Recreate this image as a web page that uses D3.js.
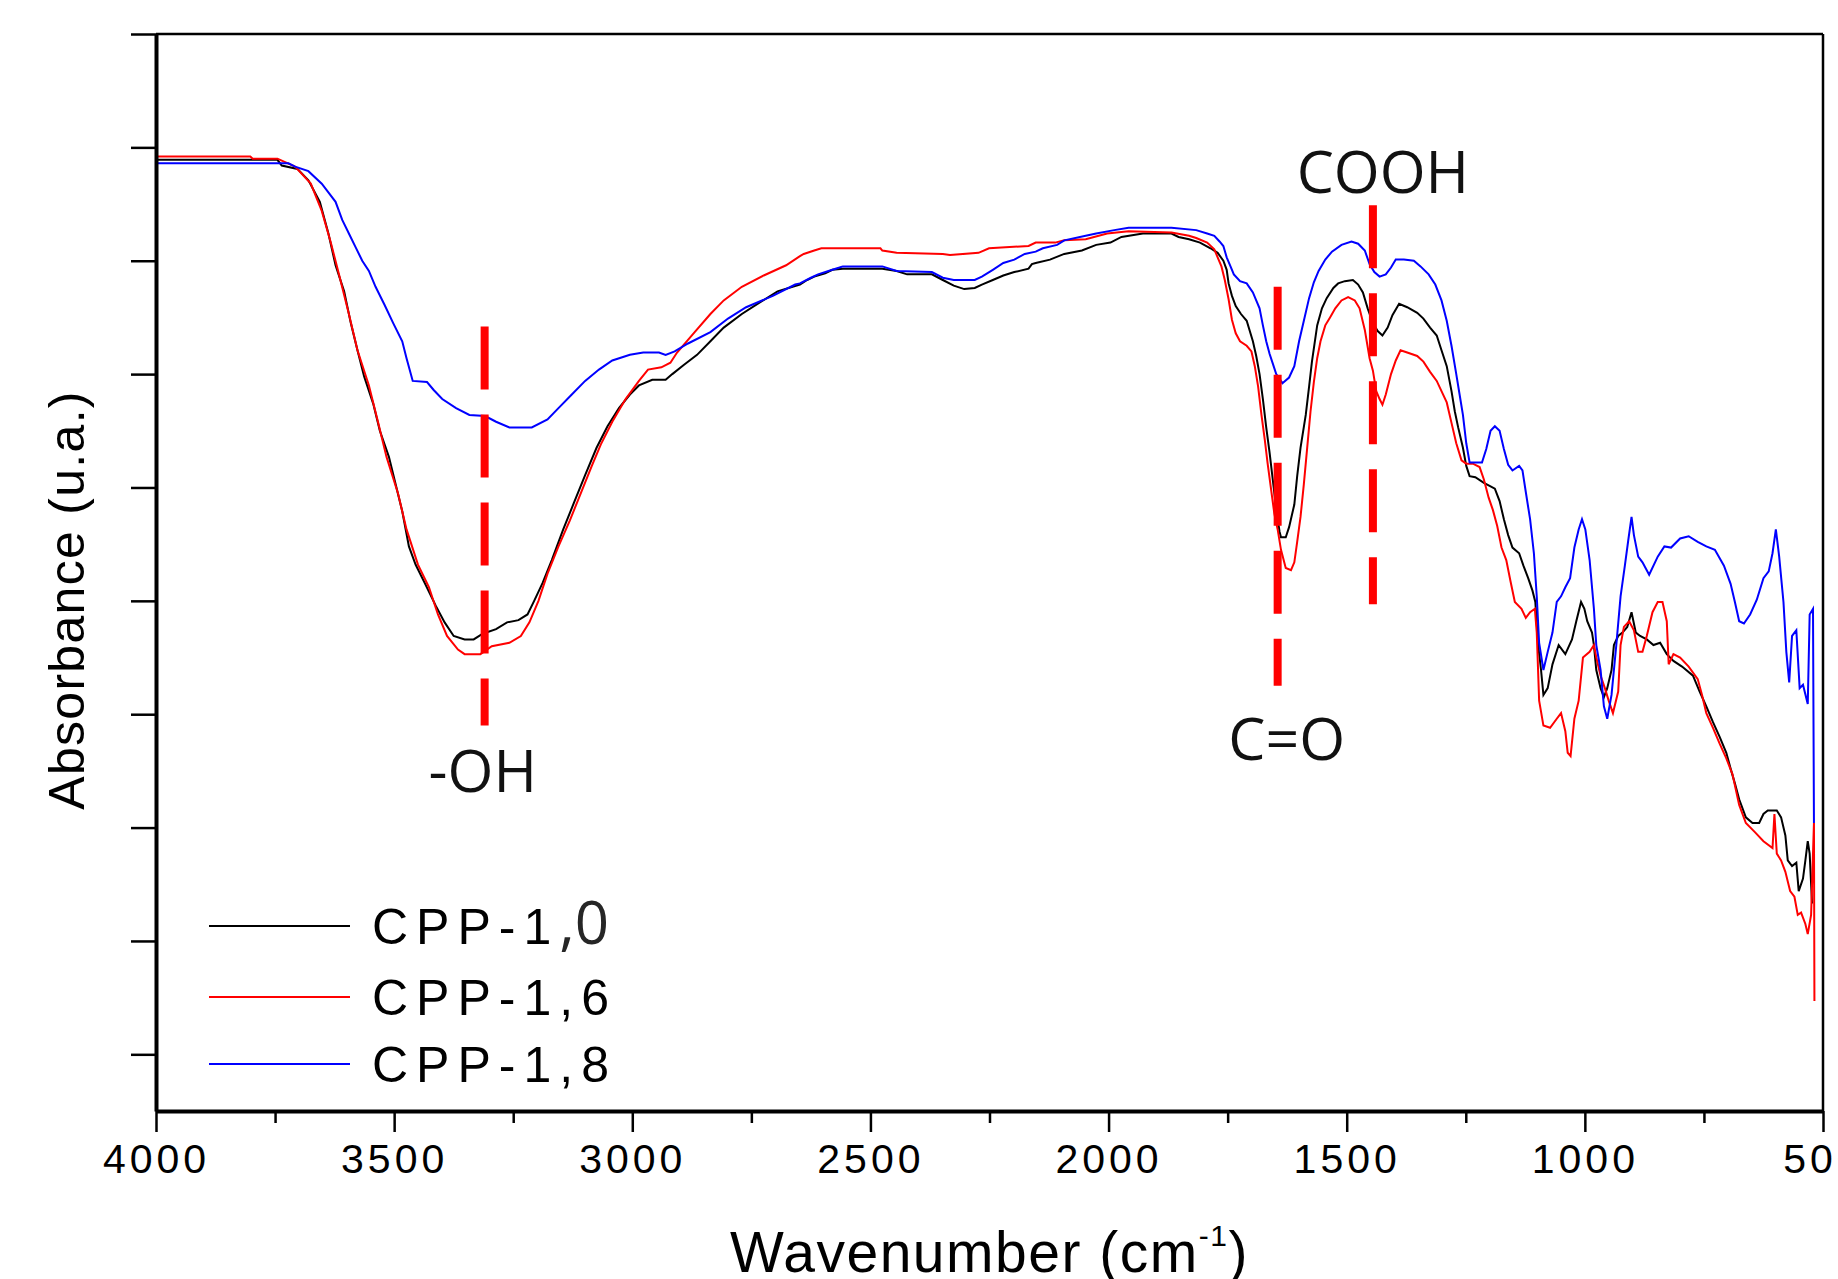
<!DOCTYPE html>
<html>
<head>
<meta charset="utf-8">
<script src="https://cdn.jsdelivr.net/npm/d3@7"></script>
<style>
  html, body { margin: 0; padding: 0; background: #fff; overflow: hidden; }
  svg { display: block; }
</style>
</head>
<body>
<svg id="ftir"></svg>
<script>
// FTIR spectra: [wavenumber cm-1, absorbance a.u.]
const cpp10 = [[4000,83.9],[3745,83.9],[3736,83.4],[3703,83.1],[3680,82.1],[3656,80.2],[3638,77.4],[3623,74.6],[3605,72.3],[3591,69.5],[3577,67.1],[3563,64.8],[3544,62.4],[3530,60.0],[3511,57.7],[3497,55.3],[3483,52.9],[3469,49.8],[3455,48.2],[3436,46.6],[3413,44.6],[3394,43.1],[3375,41.9],[3352,41.6],[3333,41.6],[3314,42.1],[3286,42.5],[3263,43.1],[3239,43.3],[3220,43.8],[3206,45.0],[3188,46.6],[3169,48.6],[3145,51.3],[3122,53.7],[3099,56.1],[3075,58.5],[3052,60.4],[3028,62.0],[3005,63.2],[2986,64.0],[2958,64.5],[2930,64.5],[2916,65.0],[2892,65.8],[2864,66.7],[2836,67.9],[2808,69.1],[2770,70.3],[2733,71.3],[2695,72.3],[2648,72.9],[2633,73.3],[2618,73.6],[2595,73.9],[2580,74.2],[2558,74.3],[2475,74.3],[2445,74.1],[2423,73.8],[2371,73.8],[2348,73.3],[2325,72.8],[2303,72.5],[2281,72.6],[2266,72.9],[2243,73.3],[2221,73.7],[2198,74.0],[2168,74.3],[2161,74.7],[2153,74.8],[2123,75.1],[2093,75.6],[2056,75.9],[2026,76.4],[1996,76.6],[1973,77.1],[1928,77.4],[1868,77.4],[1853,77.1],[1831,76.9],[1808,76.6],[1786,76.1],[1771,75.7],[1759,75.0],[1752,74.2],[1748,73.0],[1741,71.9],[1733,71.0],[1722,70.3],[1710,69.7],[1697,67.9],[1690,66.6],[1683,65.0],[1676,62.8],[1669,60.3],[1662,58.1],[1655,55.6],[1648,53.1],[1641,51.1],[1638,50.6],[1628,50.6],[1621,51.5],[1610,53.5],[1604,56.0],[1597,58.5],[1586,61.4],[1579,63.9],[1573,66.1],[1562,69.3],[1552,70.8],[1542,71.7],[1528,72.6],[1518,73.0],[1504,73.2],[1487,73.3],[1476,72.9],[1466,72.2],[1456,70.8],[1445,69.5],[1435,68.8],[1425,68.4],[1414,69.1],[1404,70.2],[1390,71.2],[1373,70.9],[1352,70.4],[1339,69.9],[1325,69.1],[1311,68.4],[1301,67.1],[1290,65.7],[1280,63.5],[1273,61.7],[1266,60.3],[1256,58.5],[1249,56.9],[1242,56.0],[1230,55.9],[1212,55.4],[1198,55.1],[1189,54.9],[1179,53.8],[1170,52.2],[1161,50.8],[1152,49.7],[1138,49.2],[1129,48.1],[1119,47.0],[1110,45.9],[1104,44.9],[1098,41.1],[1092,38.9],[1087,36.7],[1078,37.3],[1068,39.4],[1055,41.1],[1041,40.3],[1027,41.6],[1018,43.2],[1008,44.9],[1001,44.3],[995,43.2],[985,42.2],[981,41.1],[976,38.9],[967,37.3],[960,36.5],[953,37.3],[944,38.9],[939,41.1],[930,41.9],[921,42.2],[911,42.7],[902,44.0],[893,42.2],[884,41.9],[870,41.6],[856,41.1],[842,41.3],[828,40.3],[814,39.7],[796,39.2],[773,38.4],[759,37.0],[745,35.7],[731,34.3],[717,33.0],[703,31.6],[694,30.2],[685,28.9],[676,27.5],[662,25.9],[648,25.4],[634,25.4],[625,26.2],[616,26.5],[597,26.5],[588,25.9],[579,24.3],[574,22.1],[565,21.6],[556,21.9],[551,19.4],[542,20.5],[537,22.1],[532,23.8],[528,22.7],[523,18.3]];

const cpp16 = [[4000,84.2],[3802,84.2],[3797,84.0],[3745,84.0],[3708,83.3],[3675,81.8],[3652,79.4],[3633,76.6],[3614,73.5],[3595,70.3],[3577,67.1],[3553,64.0],[3534,60.8],[3516,57.7],[3492,54.5],[3474,51.3],[3450,48.2],[3427,46.2],[3408,43.8],[3389,41.9],[3366,40.7],[3352,40.3],[3319,40.3],[3295,41.0],[3258,41.3],[3234,41.9],[3216,43.1],[3197,45.0],[3178,47.4],[3155,49.8],[3131,52.1],[3108,54.5],[3085,56.9],[3066,58.8],[3042,60.8],[3014,62.8],[2986,64.4],[2967,65.4],[2939,65.6],[2920,66.0],[2906,66.9],[2869,68.7],[2836,70.3],[2808,71.5],[2770,72.7],[2724,73.7],[2677,74.6],[2648,75.4],[2640,75.6],[2618,75.9],[2603,76.1],[2479,76.1],[2475,75.9],[2445,75.7],[2348,75.6],[2333,75.5],[2273,75.7],[2251,76.1],[2168,76.3],[2153,76.6],[2112,76.6],[2093,76.8],[2048,76.9],[2003,77.4],[1958,77.6],[1868,77.5],[1831,77.2],[1816,77.0],[1793,76.6],[1778,76.0],[1771,75.3],[1763,74.5],[1756,73.3],[1748,71.6],[1741,69.8],[1733,68.6],[1724,67.9],[1710,67.5],[1700,67.0],[1693,65.7],[1686,63.9],[1679,61.4],[1672,59.2],[1666,57.1],[1659,54.9],[1652,52.7],[1645,51.3],[1638,49.5],[1628,47.9],[1617,47.7],[1610,48.4],[1604,50.2],[1597,52.4],[1590,55.3],[1583,58.5],[1576,61.7],[1569,64.3],[1562,66.4],[1555,67.9],[1545,69.3],[1535,70.0],[1524,70.8],[1511,71.5],[1497,71.8],[1483,71.5],[1473,70.8],[1462,68.9],[1452,66.4],[1445,65.3],[1438,63.5],[1431,62.8],[1425,62.3],[1418,63.2],[1407,65.0],[1397,66.2],[1387,67.1],[1373,66.9],[1352,66.6],[1339,66.1],[1325,65.2],[1311,64.4],[1301,63.5],[1290,62.5],[1280,60.7],[1270,58.9],[1259,57.4],[1249,57.1],[1235,57.1],[1221,56.8],[1212,55.7],[1202,54.1],[1193,53.0],[1184,51.6],[1175,49.7],[1165,48.6],[1156,46.7],[1147,44.9],[1133,44.3],[1124,43.5],[1115,44.0],[1105,44.3],[1101,42.2],[1096,36.2],[1087,34.0],[1073,33.8],[1059,34.6],[1050,35.1],[1041,33.5],[1036,31.6],[1030,31.3],[1022,34.6],[1013,36.2],[1004,40.0],[990,40.5],[981,41.1],[976,40.0],[967,38.4],[958,37.3],[950,36.2],[941,35.1],[930,37.0],[925,41.1],[918,42.7],[907,43.2],[897,42.4],[888,40.5],[879,40.5],[870,41.9],[858,44.0],[847,44.9],[837,44.9],[828,43.2],[824,39.4],[814,40.3],[800,40.0],[782,39.2],[763,38.1],[754,36.7],[745,35.1],[731,33.8],[717,32.4],[703,31.1],[690,29.7],[676,27.0],[662,25.4],[643,24.6],[625,23.8],[606,23.2],[602,26.2],[597,22.7],[588,22.1],[579,21.1],[569,19.4],[560,18.9],[553,17.3],[546,17.5],[537,16.5],[532,15.6],[525,17.3],[519,25.4],[518,9.7]];

const cpp18 = [[4000,83.6],[3722,83.6],[3708,83.3],[3680,82.9],[3652,81.8],[3623,80.2],[3609,78.6],[3595,77.4],[3581,76.2],[3567,75.0],[3553,74.1],[3539,72.7],[3520,71.1],[3502,69.5],[3483,67.9],[3474,66.4],[3461,64.4],[3431,64.3],[3417,63.6],[3399,62.8],[3370,62.0],[3342,61.4],[3309,61.3],[3286,60.8],[3258,60.3],[3211,60.3],[3178,61.0],[3155,62.0],[3127,63.2],[3099,64.4],[3070,65.4],[3042,66.2],[3005,66.7],[2977,66.9],[2944,66.9],[2930,66.7],[2911,67.0],[2883,67.7],[2836,68.7],[2799,69.9],[2761,70.9],[2705,71.9],[2658,72.9],[2648,73.0],[2625,73.5],[2610,73.8],[2588,74.1],[2565,74.4],[2558,74.5],[2475,74.5],[2445,74.1],[2371,74.0],[2348,73.5],[2325,73.3],[2281,73.3],[2266,73.6],[2243,74.2],[2221,74.8],[2198,75.1],[2176,75.6],[2153,75.8],[2138,76.1],[2108,76.4],[2093,76.8],[2048,77.2],[2026,77.4],[1988,77.7],[1958,77.9],[1868,77.9],[1816,77.7],[1793,77.4],[1778,77.2],[1767,76.7],[1759,76.3],[1752,75.3],[1744,74.5],[1737,73.8],[1724,73.2],[1710,73.0],[1697,72.2],[1683,70.8],[1676,69.3],[1669,67.9],[1662,66.8],[1655,65.9],[1648,65.0],[1635,64.2],[1621,64.7],[1610,65.7],[1600,67.9],[1590,69.7],[1579,71.7],[1569,73.1],[1559,74.1],[1545,75.1],[1531,75.8],[1511,76.4],[1490,76.7],[1476,76.5],[1462,75.9],[1452,74.7],[1442,74.0],[1431,73.6],[1418,73.8],[1407,74.4],[1397,75.1],[1380,75.1],[1359,75.0],[1345,74.5],[1328,73.8],[1314,72.9],[1301,71.5],[1290,69.7],[1280,67.5],[1270,65.0],[1263,63.2],[1256,61.4],[1249,58.9],[1242,57.2],[1216,57.2],[1207,58.4],[1198,60.0],[1189,60.4],[1179,60.0],[1170,58.4],[1161,57.0],[1152,56.5],[1138,56.9],[1131,56.5],[1124,54.6],[1115,52.2],[1107,49.2],[1101,45.4],[1096,41.3],[1087,38.9],[1078,40.5],[1068,42.2],[1059,44.9],[1050,45.4],[1041,46.2],[1031,47.0],[1022,49.7],[1013,51.3],[1006,52.2],[999,51.3],[990,48.6],[981,44.3],[976,41.1],[967,38.9],[960,35.7],[953,34.6],[944,36.7],[934,41.1],[925,45.4],[916,48.1],[909,50.3],[902,52.4],[897,50.8],[888,48.9],[879,48.4],[865,47.3],[847,48.9],[833,49.8],[819,49.7],[800,50.5],[782,50.7],[763,50.2],[745,49.8],[727,49.5],[708,48.1],[694,46.5],[685,44.9],[676,43.2],[666,43.0],[653,43.8],[639,45.1],[625,47.0],[614,47.6],[606,49.2],[599,51.3],[592,48.9],[583,44.9],[577,40.5],[571,37.8],[565,41.9],[556,42.4],[549,37.3],[542,37.6],[532,35.9],[528,43.8],[521,44.3],[519,25.4]];

const seriesNames = ["CPP-1,0", "CPP-1,6", "CPP-1,8"];
const seriesColors = ["#000000", "#ff0000", "#0000ff"];

const xMajorTicks = [4000, 3500, 3000, 2500, 2000, 1500, 1000, 500];
const xMinorTicks = [3750, 3250, 2750, 2250, 1750, 1250, 750];
const yTicks = [5, 15, 25, 35, 45, 55, 65, 75, 85, 95];

// band markers: wavenumber, dashed line extent, label anchor
const peakNames = ["-OH", "C=O", "COOH"];
const peakWn = [3310, 1645, 1445];
const peakTop = [69.2, 72.7, 79.9];
const peakBottom = [34.0, 37.5, 44.7];
const peakLabelWn = [3314, 1626, 1424];
const peakLabelAbs = [28.1, 31.0, 81.0];

const margin = { top: 34, right: 15, bottom: 168, left: 156 };
const totalW = 1838, totalH = 1279;
const width = totalW - margin.left - margin.right;
const height = totalH - margin.top - margin.bottom;

const svg = d3.select("#ftir")
    .attr("width", totalW)
    .attr("height", totalH);

const g = svg.append("g")
    .attr("transform", `translate(${margin.left},${margin.top})`);

const x = d3.scaleLinear().domain([4000, 500]).range([0, width]);
const y = d3.scaleLinear().domain([0, 95]).range([height, 0]);

// spectra
const line = d3.line()
    .x(d => x(d[0]))
    .y(d => y(d[1]));

[cpp10, cpp16, cpp18].forEach((s, i) => {
    g.append("path")
        .datum(s)
        .attr("fill", "none")
        .attr("stroke", seriesColors[i])
        .attr("stroke-width", 2)
        .attr("stroke-linejoin", "miter")
        .attr("d", line);
});

// dashed band markers
peakNames.forEach((name, i) => {
    g.append("line")
        .attr("x1", x(peakWn[i])).attr("x2", x(peakWn[i]))
        .attr("y1", y(peakTop[i])).attr("y2", y(peakBottom[i]))
        .attr("stroke", "#ff0000")
        .attr("stroke-width", 8)
        .attr("stroke-dasharray", "63 25");

    g.append("text")
        .attr("x", x(peakLabelWn[i]))
        .attr("y", y(peakLabelAbs[i]))
        .attr("text-anchor", "middle")
        .style("font-family", "'Open Sans', 'Noto Sans', sans-serif")
        .style("font-size", "59px")
        .style("fill", "#111")
        .text(name);
});

// axes
const xAxis = g.append("g")
    .attr("transform", `translate(0,${height})`)
    .call(d3.axisBottom(x).tickValues(xMajorTicks).tickSize(21).tickSizeOuter(0)
        .tickPadding(12).tickFormat(d3.format("d")));
xAxis.select(".domain").attr("stroke-width", 4);
xAxis.selectAll(".tick line").attr("stroke-width", 2.5);
xAxis.selectAll(".tick text")
    .attr("fill", "#000")
    .style("font-family", "'Liberation Sans', Arial, sans-serif")
    .style("font-size", "41px")
    .style("letter-spacing", "4px");

g.append("g")
    .attr("transform", `translate(0,${height})`)
    .call(d3.axisBottom(x).tickValues(xMinorTicks).tickSize(12).tickFormat(""))
    .call(a => a.select(".domain").remove())
    .selectAll(".tick line").attr("stroke-width", 2.5);

const yAxis = g.append("g")
    .call(d3.axisLeft(y).tickValues(yTicks).tickSize(25).tickSizeOuter(0).tickFormat(""));
yAxis.select(".domain").attr("stroke-width", 4);
yAxis.selectAll(".tick line").attr("stroke-width", 2.5);

// frame top and right
g.append("line")
    .attr("x1", 0).attr("x2", width).attr("y1", 0).attr("y2", 0)
    .attr("stroke", "#000").attr("stroke-width", 2.7);
g.append("line")
    .attr("x1", width).attr("x2", width).attr("y1", 0).attr("y2", height)
    .attr("stroke", "#000").attr("stroke-width", 2.5);

// axis titles
const xTitle = svg.append("text")
    .attr("x", margin.left + width / 2)
    .attr("y", 1272)
    .attr("text-anchor", "middle")
    .style("font-family", "'Liberation Sans', Arial, sans-serif")
    .style("font-size", "57px")
    .style("letter-spacing", "1.5px");
xTitle.append("tspan").text("Wavenumber (cm");
xTitle.append("tspan").attr("dy", -26).style("font-size", "30px").text("-1");
xTitle.append("tspan").attr("dy", 26).text(")");

svg.append("text")
    .attr("transform", "translate(84,600) rotate(-90)")
    .attr("text-anchor", "middle")
    .style("font-family", "'Liberation Sans', Arial, sans-serif")
    .style("font-size", "50px")
    .style("letter-spacing", "1.3px")
    .text("Absorbance (u.a.)");

// legend
const legend = svg.append("g");
const legendY = [926, 997, 1064];
seriesNames.forEach((name, i) => {
    legend.append("line")
        .attr("x1", 209).attr("x2", 350)
        .attr("y1", legendY[i]).attr("y2", legendY[i])
        .attr("stroke", seriesColors[i])
        .attr("stroke-width", 2.2);
    const t = legend.append("text")
        .attr("x", 372)
        .attr("y", legendY[i] + 18)
        .style("font-family", "'Liberation Sans', Arial, sans-serif")
        .style("font-size", "50px")
        .style("letter-spacing", "8px")
        .style("fill", "#000");
    if (i === 0) {
        t.append("tspan").text(name.slice(0, 5));
        t.append("tspan")
            .style("font-family", "'Open Sans', sans-serif")
            .style("font-size", "60px")
            .style("letter-spacing", "0px")
            .style("fill", "#262626")
            .text(name.slice(5));
    } else {
        t.text(name);
    }
});
</script>
</body>
</html>
